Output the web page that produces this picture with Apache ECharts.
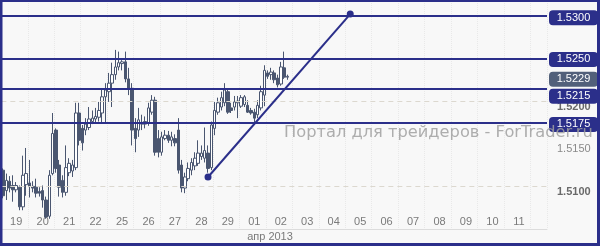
<!DOCTYPE html>
<html><head><meta charset="utf-8">
<script src="https://cdn.jsdelivr.net/npm/echarts@6/dist/echarts.min.js"></script>
<style>html,body{margin:0;padding:0;background:#fff}#c{width:600px;height:246px}</style>
</head><body><div id="c"></div>
<script>
// ---- data ----
const dayLabels = ['19','20','21','22','25','26','27','28','29','01','02','03','04','05','06','07','08','09','10','11'];
const slotsPerDay = 8;
const totalSlots = 165;
const monthLabel = 'апр 2013';
const watermark = 'Портал для трейдеров - ForTrader.ru';

const opens = [1.5119,1.5095,1.5106,1.5101,1.5096,1.5099,1.5076,1.5102,1.5104,1.5100,
1.5099,1.5094,1.5095,1.5084,1.5065,1.5115,1.5166,1.5125,1.5107,1.5093,
1.5116,1.5118,1.5122,1.5186,1.5168,1.5166,1.5169,1.5176,1.5179,1.5181,
1.5186,1.5205,1.5211,1.5221,1.5231,1.5240,1.5244,1.5246,1.5226,1.5215,
1.5168,1.5166,1.5175,1.5173,1.5174,1.5187,1.5201,1.5156,1.5140,1.5156,
1.5160,1.5154,1.5156,1.5166,1.5125,1.5098,1.5109,1.5119,1.5124,1.5127,
1.5135,1.5133,1.5139,1.5122,1.5168,1.5187,1.5193,1.5198,1.5211,1.5192,
1.5193,1.5198,1.5194,1.5196,1.5195,1.5189,1.5187,1.5184,1.5192,1.5207,
1.5233,1.5231,1.5233,1.5227,1.5220,1.5239,1.5228];
const closes = [1.5089,1.5107,1.5098,1.5096,1.5101,1.5076,1.5113,1.5115,1.5100,1.5098,
1.5092,1.5092,1.5084,1.5064,1.5113,1.5162,1.5121,1.5099,1.5093,1.5122,
1.5127,1.5125,1.5186,1.5154,1.5151,1.5173,1.5179,1.5180,1.5182,1.5189,
1.5205,1.5213,1.5221,1.5231,1.5240,1.5245,1.5246,1.5226,1.5215,1.5166,
1.5156,1.5178,1.5173,1.5176,1.5192,1.5201,1.5140,1.5140,1.5158,1.5160,
1.5154,1.5158,1.5151,1.5119,1.5098,1.5111,1.5121,1.5128,1.5133,1.5139,
1.5139,1.5142,1.5121,1.5172,1.5189,1.5198,1.5204,1.5213,1.5187,1.5189,
1.5199,1.5200,1.5204,1.5205,1.5187,1.5186,1.5180,1.5195,1.5211,1.5236,
1.5229,1.5234,1.5225,1.5219,1.5240,1.5228,1.5229];
const lows = [1.5086,1.5084,1.5093,1.5082,1.5093,1.5072,1.5072,1.5089,1.5087,1.5093,
1.5087,1.5088,1.5075,1.5062,1.5062,1.5113,1.5116,1.5088,1.5087,1.5089,
1.5112,1.5111,1.5119,1.5148,1.5142,1.5160,1.5166,1.5173,1.5175,1.5176,
1.5175,1.5175,1.5199,1.5193,1.5225,1.5236,1.5236,1.5222,1.5207,1.5148,
1.5140,1.5158,1.5166,1.5168,1.5171,1.5184,1.5136,1.5134,1.5136,1.5154,
1.5151,1.5147,1.5147,1.5115,1.5093,1.5092,1.5106,1.5113,1.5119,1.5124,
1.5131,1.5128,1.5116,1.5119,1.5160,1.5184,1.5189,1.5194,1.5185,1.5186,
1.5189,1.5180,1.5192,1.5193,1.5186,1.5184,1.5175,1.5180,1.5189,1.5194,
1.5226,1.5225,1.5221,1.5216,1.5218,1.5226,1.5225];
const highs = [1.5121,1.5115,1.5112,1.5113,1.5105,1.5101,1.5136,1.5145,1.5131,1.5106,
1.5109,1.5099,1.5101,1.5088,1.5119,1.5186,1.5168,1.5131,1.5113,1.5148,
1.5133,1.5131,1.5198,1.5198,1.5172,1.5180,1.5193,1.5189,1.5192,1.5199,
1.5213,1.5221,1.5233,1.5245,1.5260,1.5258,1.5248,1.5258,1.5239,1.5221,
1.5180,1.5192,1.5184,1.5182,1.5198,1.5207,1.5205,1.5166,1.5164,1.5166,
1.5165,1.5164,1.5161,1.5180,1.5131,1.5116,1.5128,1.5133,1.5140,1.5154,
1.5148,1.5169,1.5148,1.5176,1.5199,1.5204,1.5211,1.5221,1.5215,1.5198,
1.5206,1.5206,1.5207,1.5207,1.5201,1.5192,1.5191,1.5201,1.5218,1.5242,
1.5236,1.5239,1.5236,1.5231,1.5246,1.5258,1.5231];

const levelValues = [1.5300, 1.5250, 1.5215, 1.5175];
const currentPrice = 1.5229;
const gridValues = [1.51, 1.52, 1.53];
const trendPoints = [[62, 1.5111], [105, 1.5302]];
const yMin = 1.5050, yMax = 1.5315, yInterval = 0.005;

// ---- styles ----
const NAVY = '#2b2f8a';
const CANDLE = '#4a5670';
const CUR = '#52607a';

const categories = [];
for (let i = 0; i < totalSlots; i++) categories.push(String(i));
const candleData = opens.map((o, i) => [o, closes[i], lows[i], highs[i]]);

function hLine(v, style, z) {
  return {type: 'line', data: [], z: z, silent: true,
    markLine: {silent: true, precision: 4, symbol: ['none', 'none'], label: {show: false}, animation: false,
      lineStyle: style, data: [{yAxis: v}]}};
}

const chart = echarts.init(document.getElementById('c'), null, {renderer: 'canvas'});
const series = [];
gridValues.forEach(v => series.push(hLine(v, {color: '#dcd8cf', width: 1, type: [5, 4]}, 1)));
series.push({
  type: 'candlestick', data: candleData, barWidth: 3, z: 3,
  itemStyle: {color: '#ffffff', color0: CANDLE, borderColor: CANDLE, borderColor0: CANDLE, borderWidth: 1}
});
levelValues.forEach(v => series.push(hLine(v, {color: NAVY, width: 2, type: 'solid'}, 4)));
series.push({
  type: 'line', data: trendPoints, symbol: 'circle', symbolSize: 7, showSymbol: true,
  lineStyle: {color: NAVY, width: 2}, itemStyle: {color: NAVY}, z: 5
});

const option = {
  animation: false,
  backgroundColor: '#f8f8f8',
  grid: {left: 0, right: 53, top: 3, bottom: 17, containLabel: false},
  xAxis: {
    type: 'category', data: categories, boundaryGap: true,
    axisLine: {show: true, lineStyle: {color: '#dcdcdc', width: 1}},
    axisTick: {show: false},
    axisLabel: {
      inside: true, margin: 2, interval: 0, color: '#7a7a7a', fontSize: 11,
      fontFamily: 'Liberation Sans, Arial, sans-serif',
      formatter: (v, idx) => (idx % slotsPerDay === 4 ? (dayLabels[Math.floor(idx / slotsPerDay)] || '') : '')
    },
    splitLine: {show: true, interval: (idx) => idx % slotsPerDay === 0,
      lineStyle: {color: '#e9e9e9', width: 1, type: 'dotted'}}
  },
  yAxis: {
    type: 'value', position: 'right', min: yMin, max: yMax, interval: yInterval, scale: true,
    axisLine: {show: false}, axisTick: {show: false}, splitLine: {show: false},
    axisLabel: {
      margin: 10, verticalAlign: 'top', showMinLabel: false, showMaxLabel: false,
      fontFamily: 'Liberation Sans, Arial, sans-serif', fontSize: 11,
      formatter: (v) => Math.round(v * 10000) % 100 === 0 ? '{a|' + v.toFixed(4) + '}' : '{b|' + v.toFixed(4) + '}',
      rich: {a: {color: '#6a6a6a', fontWeight: 'bold', fontSize: 11, fontFamily: 'Liberation Sans, Arial, sans-serif'},
             b: {color: '#8a8a8a', fontSize: 11, fontFamily: 'Liberation Sans, Arial, sans-serif'}}
    }
  },
  series: series
};
chart.setOption(option);

// tags on the right, placed through the y scale
const tagShift = [2, 1, 8, 2];
const graphics = [];
function tag(value, color, shift) {
  const y = chart.convertToPixel({yAxisIndex: 0}, value) + shift;
  graphics.push({type: 'rect', shape: {x: 549, y: y - 7.5, width: 49, height: 15, r: 4}, style: {fill: color}, z: 20});
  graphics.push({type: 'text', x: 573.5, y: y, z: 21,
    style: {text: value.toFixed(4), fill: '#ffffff', font: '11px "Liberation Sans", Arial, sans-serif', align: 'center', verticalAlign: 'middle'}});
}
levelValues.forEach((v, i) => tag(v, NAVY, tagShift[i]));
tag(currentPrice, CUR, 3);

// watermark: fit its width to the reference span
const wmFamily = '"DejaVu Sans", Verdana, sans-serif';
const ctx = document.createElement('canvas').getContext('2d');
ctx.font = '20px ' + wmFamily;
const wmSize = Math.min(18, 20 * 309 / ctx.measureText(watermark).width);
graphics.push({type: 'text', x: 284, y: 133, z: 25,
  style: {text: watermark, fill: 'rgba(160,160,160,0.85)', font: wmSize.toFixed(2) + 'px ' + wmFamily, verticalAlign: 'middle'}});
graphics.push({type: 'text', x: 270, y: 237, z: 25,
  style: {text: monthLabel, fill: '#7a7a7a', font: '11px "Liberation Sans", Arial, sans-serif', align: 'center', verticalAlign: 'middle'}});
graphics.push({type: 'rect', shape: {x: 1, y: 0.5, width: 597.5, height: 244}, style: {fill: null, stroke: NAVY, lineWidth: 3}, z: 30});
chart.setOption({graphic: graphics});
</script>
</body></html>
